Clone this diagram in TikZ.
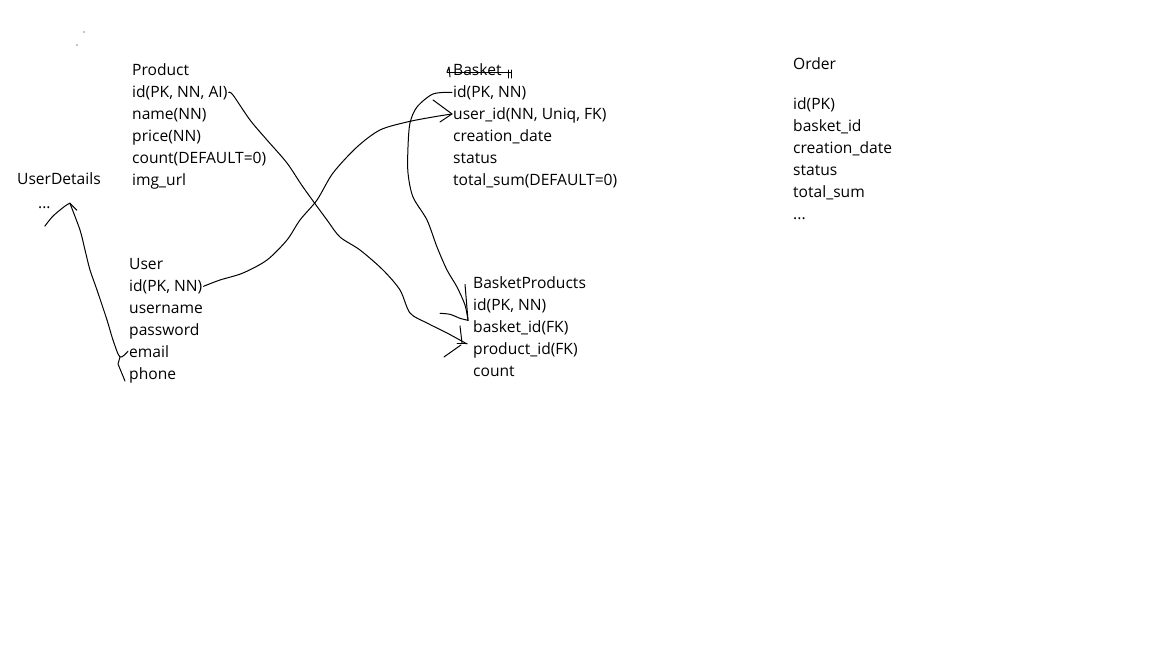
\documentclass[tikz,border=0pt]{standalone}
\usepackage{fontspec}
\setmainfont{Open Sans}
\usetikzlibrary{calc}

\tikzset{
  field/.style={anchor=base west, inner sep=1pt, font=\fontsize{15.6}{18}\selectfont},
  pen/.style={line width=1pt, line join=round, line cap=round},
}

\begin{document}
\begin{tikzpicture}[x=1pt,y=-1pt]
	\useasboundingbox (0,0) rectangle (1152,648);
	% tables
	\foreach \t [count=\i] in {Product,{id(PK, NN, AI)},name(NN),price(NN),count(DEFAULT=0),img\_url}
		\node[field] (P\i) at (131,{75+22*(\i-1)}) {\t};
	\foreach \t [count=\i] in {User,{id(PK, NN)},username,password,email,phone}
		\node[field] (U\i) at (128,{269+22*(\i-1)}) {\t};
	\foreach \t [count=\i] in {Basket,{id(PK, NN)},{user\_id(NN, Uniq, FK)},creation\_date,status,total\_sum(DEFAULT=0)}
		\node[field] (B\i) at (452,{75+22*(\i-1)}) {\t};
	\foreach \t [count=\i] in {BasketProducts,{id(PK, NN)},basket\_id(FK),product\_id(FK),count}
		\node[field] (BP\i) at (472,{288+22*(\i-1)}) {\t};
	\foreach \t [count=\i] in {id(PK),basket\_id,creation\_date,status,total\_sum}
		\node[field] (O\i) at (792,{109+22*(\i-1)}) {\t};
	\node[field] (O0) at (792,69) {Order};
	\node[field] (O6) at (792,219) {...};
	\node[field] (UD1) at (16,184) {UserDetails};
	\node[field] (UD2) at (37,208) {...};
	\fill (77,45) circle (0.7);
	\fill (84,32) circle (0.6);
	% crossed out
	\draw[pen] ($(B1.base west)+(-5,-3)$) -- ($(B1.base east)+(8,-3)$);
	\draw[pen] ($(B1.base west)+(-5,-3)$) -- ++(2,-5) -- ++(1,10);
	\draw[pen] ($(B1.base east)+(6,-5)$) -- ++(0,8);
	\draw[pen] ($(B1.base east)+(9,-5)$) -- ++(0,8);
	% tips
	\coordinate (tP) at ($(BP4.west)+(-5,-6)$);
	\coordinate (tU) at ($(B3.west)+(0,-1)$);
	\coordinate (tB) at ($(BP3.west)+(-4,-7)$);
	\coordinate (tD) at ($(UD2.east)+(18,-4)$);
	% links
	\draw[pen] plot[smooth, tension=0.5] coordinates {(P2.east) (233,95) (250,120) (267,140) (287,163)
		(303,187) (327,220) (340,237) (360,250) (383,270) (400,290) (410,313) (427,323) (447,333) (tP)};
	\draw[pen] (tP) -- ++(-10,0);
	\draw[pen] ($(tP)+(-5,-1)$) -- ++(-2,-17);
	\draw[pen] ($(tP)+(-6,1)$) -- ++(-17,12);
	\draw[pen] plot[smooth, tension=0.5] coordinates {(U2.east) (220,280) (243,273) (267,260) (287,240)
		(300,220) (317,200) (333,173) (357,147) (380,130) (407,122) (433,117) (tU)};
	\draw[pen] ($(tU)+(-19,-14)$) -- (tU) -- ++(-12,8);
	\draw[pen] plot[smooth, tension=0.5] coordinates {(B2.west) (433,94) (417,107) (410,123) (408,147)
		(408,173) (413,197) (427,220) (437,247) (447,270) (457,287) (465,305) (tB)};
	\draw[pen] ($(tB)+(-3,-36)$) -- (tB);
	\draw[pen] plot[smooth] coordinates {($(tB)+(-28,-7)$) ($(tB)+(-18,-6)$) ($(tB)+(-8,-2)$) (tB)};
	\draw[pen] plot[smooth, tension=0.5] coordinates {(U5.west) (120,357) (113,340) (107,320)
		(97,290) (90,270) (85,250) (80,230) (tD)};
	\draw[pen] (120,357) -- (118,364) -- (125,381);
	\draw[pen] plot[smooth] coordinates {($(tD)+(-25,23)$) ($(tD)+(-17,13)$) ($(tD)+(-5,3)$) (tD)};
	\draw[pen] (tD) -- ++(7,7);
\end{tikzpicture}
\end{document}
